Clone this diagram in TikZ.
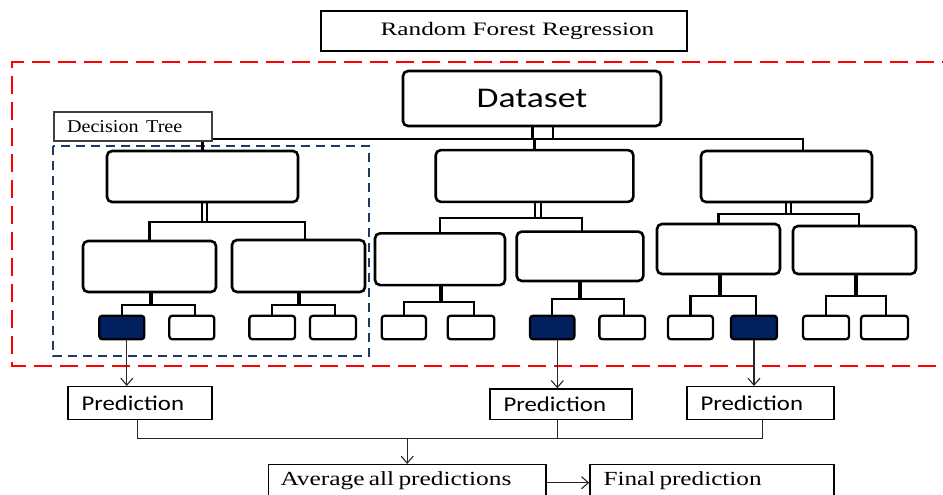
\documentclass[tikz,border=0pt]{standalone}
\usepackage{fontspec}
\usepackage{graphicx}
\setmainfont{Liberation Serif}
\newfontfamily\calib{Carlito}
\usetikzlibrary{arrows.meta,calc}
\definecolor{navyfill}{RGB}{0,32,96}
\definecolor{dtblue}{RGB}{31,56,100}
\newcommand{\hsc}[2]{\scalebox{#1}[1]{#2}}
\begin{document}
\begin{tikzpicture}[x=1pt,y=-1pt,
  bx/.style 2 args={draw, fill=white, line width=2.6pt, rounded corners=5pt, minimum width=#1, minimum height=#2, inner sep=0pt},
  leaf/.style={draw, fill=white, line width=2.3pt, rounded corners=3pt, minimum width=#1, minimum height=23.5pt, inner sep=0pt},
  leafd/.style={leaf=#1, fill=navyfill},
  conn/.style={line width=2.1pt, line cap=rect},
  stemline/.style={line width=4pt},
  dbl/.style={line width=1.8pt},
  pbox/.style={draw, fill=white, line width=1.4pt, align=left, inner xsep=13.5pt, inner ysep=0pt},
  arr/.style={line width=1.1pt, black!85, -{Straight Barb[length=7pt,width=12pt,line width=1.1pt]}},
  bl/.style={line width=1.3pt, black!85}
]
\useasboundingbox (0,0) rectangle (943,495);

% title
\node[draw, line width=2pt, minimum width=366pt, minimum height=40pt, inner sep=0pt] (title) at (504,31)
  {\hspace*{27pt}\hsc{1.33}{\fontsize{19}{22}\selectfont Random Forest Regression}};

% red dashed frame
\draw[red, line width=2.4pt, dash pattern=on 18pt off 8pt] (960,62) -- (12,62) -- (12,366) -- (960,366);
% blue dashed frame
\draw[dtblue, line width=2.1pt, dash pattern=on 9pt off 6pt] (53,146) rectangle (369,356);

% nodes: dataset and trees
\node[bx={258pt}{55pt}] (ds) at (532,98.5) {\calib\fontsize{28.5}{32}\selectfont\hsc{1.25}{Dataset}};

\node[bx={191pt}{51pt}] (r1) at (202.5,176.5) {};
\node[bx={133pt}{51pt}] (c11) at (149.5,266.5) {};
\node[bx={133pt}{52pt}] (c12) at (298.5,266) {};
\node[leafd=45pt] (l111) at (121.8,327.5) {};
\node[leaf=45pt] (l112) at (191.8,327.5) {};
\node[leaf=45.7pt] (l121) at (272.2,327.5) {};
\node[leaf=46pt] (l122) at (333,327.5) {};

\node[bx={197.6pt}{51.7pt}] (r2) at (534.5,176) {};
\node[bx={130pt}{51.7pt}] (c21) at (440,259.2) {};
\node[bx={126.6pt}{49.3pt}] (c22) at (580,256.3) {};
\node[leaf=44.3pt] (l211) at (403.8,327.5) {};
\node[leaf=46.6pt] (l212) at (471,327.5) {};
\node[leafd=44.3pt] (l221) at (552.2,327.5) {};
\node[leaf=45.7pt] (l222) at (622.2,327.5) {};

\node[bx={171pt}{51pt}] (r3) at (786.5,176.5) {};
\node[bx={123pt}{50pt}] (c31) at (718.5,249) {};
\node[bx={123pt}{48pt}] (c32) at (854.5,250) {};
\node[leaf=45pt] (l311) at (690.5,327.5) {};
\node[leafd=46pt] (l312) at (754,327.5) {};
\node[leaf=46pt] (l321) at (826,327.5) {};
\node[leaf=47pt] (l322) at (884.5,327.5) {};

% junction coordinates
\coordinate (hl) at (202,139);
\coordinate (hr) at (803,139);
\coordinate (j1) at (202,222);   \coordinate (j1r) at (305,222);
\coordinate (k11) at (151,305);  \coordinate (k11r) at (195,305);
\coordinate (k12) at (299,305);  \coordinate (k12r) at (335,305);
\coordinate (j2) at (538,218.3); \coordinate (j2r) at (581.7,218.3);
\coordinate (k21) at (441,301.7); \coordinate (k21r) at (474,301.7);
\coordinate (k22) at (580,299);  \coordinate (k22r) at (624,299);
\coordinate (j3) at (788.5,214); \coordinate (j3r) at (859,214);
\coordinate (k31) at (720,296);  \coordinate (k31r) at (756,296);
\coordinate (k32) at (856,296);  \coordinate (k32r) at (886,296);

% top connectors
\draw[conn] (r1.north) -- (r1.north |- hl) -- (hr) -- (hr |- r3.north);
\draw[conn] (r2.north) -- (r2.north |- hr);
\draw[line width=3pt] ([xshift=0.3pt]ds.south) -- ([xshift=0.3pt]ds.south |- hr);
\draw[line width=2.2pt] ([xshift=20.7pt]ds.south) -- ([xshift=20.7pt]ds.south |- hr);

% tree 1
\draw[dbl] ([xshift=-0.5pt]r1.south) -- ([xshift=-0.5pt]r1.south |- j1);
\draw[dbl] ([xshift=4.5pt]r1.south) -- ([xshift=4.5pt]r1.south |- j1);
\draw[conn] (c11.north) |- (j1) -- (j1r) -- (j1r |- c12.north);
\draw[stemline] (c11.south -| k11) -- (k11);
\draw[conn] (l111.north) |- (k11) -- (k11r) -- (k11r |- l112.north);
\draw[stemline] (c12.south -| k12) -- (k12);
\draw[conn] (l121.north) |- (k12) -- (k12r) -- (k12r |- l122.north);

% tree 2
\draw[dbl] ([xshift=0.5pt]r2.south) -- ([xshift=0.5pt]r2.south |- j2);
\draw[dbl] ([xshift=6.5pt]r2.south) -- ([xshift=6.5pt]r2.south |- j2);
\draw[conn] (c21.north) |- (j2) -- (j2r) -- (j2r |- c22.north);
\draw[stemline] (c21.south -| k21) -- (k21);
\draw[conn] (l211.north) |- (k21) -- (k21r) -- (k21r |- l212.north);
\draw[stemline] (c22.south -| k22) -- (k22);
\draw[conn] (l221.north) |- (k22) -- (k22r) -- (k22r |- l222.north);

% tree 3
\draw[dbl] ([xshift=-0.5pt]r3.south) -- ([xshift=-0.5pt]r3.south |- j3);
\draw[dbl] ([xshift=4.5pt]r3.south) -- ([xshift=4.5pt]r3.south |- j3);
\draw[conn] (c31.north) |- (j3) -- (j3r) -- (j3r |- c32.north);
\draw[stemline] (c31.south -| k31) -- (k31);
\draw[conn] (l311.north) |- (k31) -- (k31r) -- (k31r |- l312.north);
\draw[stemline] (c32.south -| k32) -- (k32);
\draw[conn] (l321.north) |- (k32) -- (k32r) -- (k32r |- l322.north);

% decision tree label
\node[draw=black!75, fill=white, line width=1.3pt, text=black, align=left, text width=132pt, inner xsep=13pt, inner ysep=0pt, minimum height=29pt] (dt) at (133,126.5)
  {\fontsize{18}{20}\selectfont\hsc{1.12}{Decision\ \ Tree}};

% predictions
\node[pbox, text width=117pt, minimum height=32.6pt] (p1) at (140,403)
  {\calib\fontsize{21}{24}\selectfont\hsc{1.18}{Prediction}};
\node[pbox, text width=115pt, minimum height=30.3pt] (p2) at (561,404.2)
  {\calib\fontsize{21}{24}\selectfont\hsc{1.18}{Prediction}};
\node[pbox, text width=120pt, minimum height=32.6pt] (p3) at (760.5,403)
  {\calib\fontsize{21}{24}\selectfont\hsc{1.18}{Prediction}};

\node[pbox, inner xsep=12.1pt, text width=253.4pt, minimum height=31.2pt] (av) at (407.2,480.3)
  {\fontsize{20}{24}\selectfont\hsc{1.27}{Average all predictions}};
\node[pbox, text width=217pt, minimum height=31.2pt] (fin) at (712,480.3)
  {\fontsize{20}{24}\selectfont\hsc{1.26}{Final prediction}};

% arrows from leaves
\draw[arr] ([xshift=5pt]l111.south) -- ([xshift=5pt]l111.south |- p1.north);
\draw[arr] ([xshift=5.1pt]l221.south) -- ([xshift=5.1pt]l221.south |- p2.north);
\draw[arr] (l312.south) -- (l312.south |- p3.north);

% collecting lines
\coordinate (bj) at (407.2,438.5);
\draw[bl] ([xshift=-2.2pt]p1.south) |- ([xshift=2.3pt]p3.south |- bj) -- ([xshift=2.3pt]p3.south);
\draw[bl] ([xshift=-3.7pt]p2.south) -- ([xshift=-3.7pt]p2.south |- bj);
\draw[arr] (av.north |- bj) -- (av.north);
\draw[arr] ([yshift=-2.4pt]av.east) -- ([yshift=-2.4pt]fin.west);
\end{tikzpicture}
\end{document}
